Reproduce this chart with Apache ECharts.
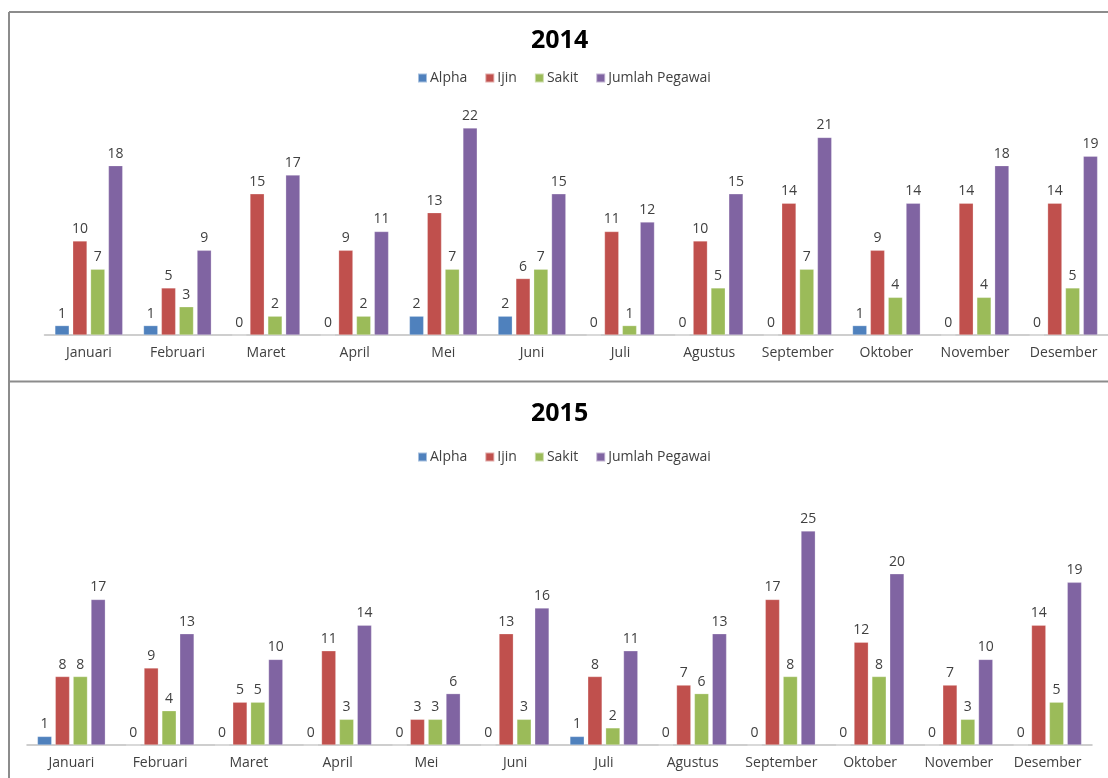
<!DOCTYPE html>
<html>
<head>
<meta charset="utf-8">
<script src="https://cdn.jsdelivr.net/npm/echarts@6/dist/echarts.min.js"></script>
<style>
html,body{margin:0;padding:0;background:#fff;}
#chart{width:1108px;height:778px;}
</style>
</head>
<body>
<div id="chart"></div>
<script>
const months = ["Januari","Februari","Maret","April","Mei","Juni","Juli","Agustus","September","Oktober","November","Desember"];
const seriesNames = ["Alpha","Ijin","Sakit","Jumlah Pegawai"];
const colors = ["#4F81BD","#C0504D","#9BBB59","#8064A2"];

const alpha2014 = [1,1,0,0,2,2,0,0,0,1,0,0];
const ijin2014 = [10,5,15,9,13,6,11,10,14,9,14,14];
const sakit2014 = [7,3,2,2,7,7,1,5,7,4,4,5];
const jumlah2014 = [18,9,17,11,22,15,12,15,21,14,18,19];

const alpha2015 = [1,0,0,0,0,0,1,0,0,0,0,0];
const ijin2015 = [8,9,5,11,3,13,8,7,17,12,7,14];
const sakit2015 = [8,4,5,3,3,3,2,6,8,8,3,5];
const jumlah2015 = [17,13,10,14,6,16,11,13,25,20,10,19];

const FONT = "'Open Sans', sans-serif";
const TXT = "#404040";

function mkSeries(idx, data2014, data2015) {
  const out = [];
  [[data2014,0],[data2015,1]].forEach(([d,g]) => {
    out.push({
      name: seriesNames[idx],
      type: 'bar',
      xAxisIndex: g,
      yAxisIndex: g,
      data: d,
      barGap: '25%',
      barCategoryGap: '23.5%',
      itemStyle: {color: colors[idx], borderColor: 'rgba(255,255,255,0.5)', borderWidth: 0.5},
      label: {show: true, position: 'top', distance: 5, fontFamily: FONT, fontSize: 14, color: TXT},
      emphasis: {disabled: true},
      animation: false
    });
  });
  return out;
}

const series = [].concat(
  mkSeries(0, alpha2014, alpha2015),
  mkSeries(1, ijin2014, ijin2015),
  mkSeries(2, sakit2014, sakit2015),
  mkSeries(3, jumlah2014, jumlah2015)
);

const legendCommon = {
  data: seriesNames,
  left: 412,
  itemWidth: 9,
  itemHeight: 9,
  itemGap: 17,
  icon: 'rect',
  textStyle: {fontFamily: FONT, fontSize: 14, color: TXT, padding: [0,0,0,-2]}
};

const xAxisCommon = {
  type: 'category',
  data: months,
  axisLine: {lineStyle: {color: '#BFBFBF', width: 1.5}},
  axisTick: {show: false},
  axisLabel: {fontFamily: FONT, fontSize: 14, color: TXT, margin: 11, interval: 0}
};

const yAxisCommon = {
  type: 'value',
  min: 0,
  show: false,
  splitLine: {show: false}
};

const option = {
  animation: false,
  title: [
    {text: '2014', left: 526, top: 23, textStyle: {fontFamily: FONT, fontSize: 25, fontWeight: 'bold', color: '#000'}},
    {text: '2015', left: 526, top: 396, textStyle: {fontFamily: FONT, fontSize: 25, fontWeight: 'bold', color: '#000'}}
  ],
  legend: [
    Object.assign({top: 66}, legendCommon),
    Object.assign({top: 445}, legendCommon)
  ],
  grid: [
    {left: 44.5, right: -3, top: 128, height: 207},
    {left: 27, right: 16, top: 531, height: 214}
  ],
  xAxis: [
    Object.assign({gridIndex: 0}, xAxisCommon),
    Object.assign({gridIndex: 1}, xAxisCommon)
  ],
  yAxis: [
    Object.assign({gridIndex: 0, max: 22}, yAxisCommon),
    Object.assign({gridIndex: 1, max: 25}, yAxisCommon)
  ],
  graphic: [
    {type: 'line', shape: {x1: 9, y1: 12, x2: 1108, y2: 12}, style: {stroke: '#8C8C8C', lineWidth: 2}},
    {type: 'line', shape: {x1: 9, y1: 12, x2: 9, y2: 778}, style: {stroke: '#8C8C8C', lineWidth: 2}},
    {type: 'line', shape: {x1: 9, y1: 381.5, x2: 1108, y2: 381.5}, style: {stroke: '#8C8C8C', lineWidth: 2}}
  ],
  series: series
};

const chart = echarts.init(document.getElementById('chart'), null, {renderer: 'canvas'});
chart.setOption(option);
</script>
</body>
</html>
